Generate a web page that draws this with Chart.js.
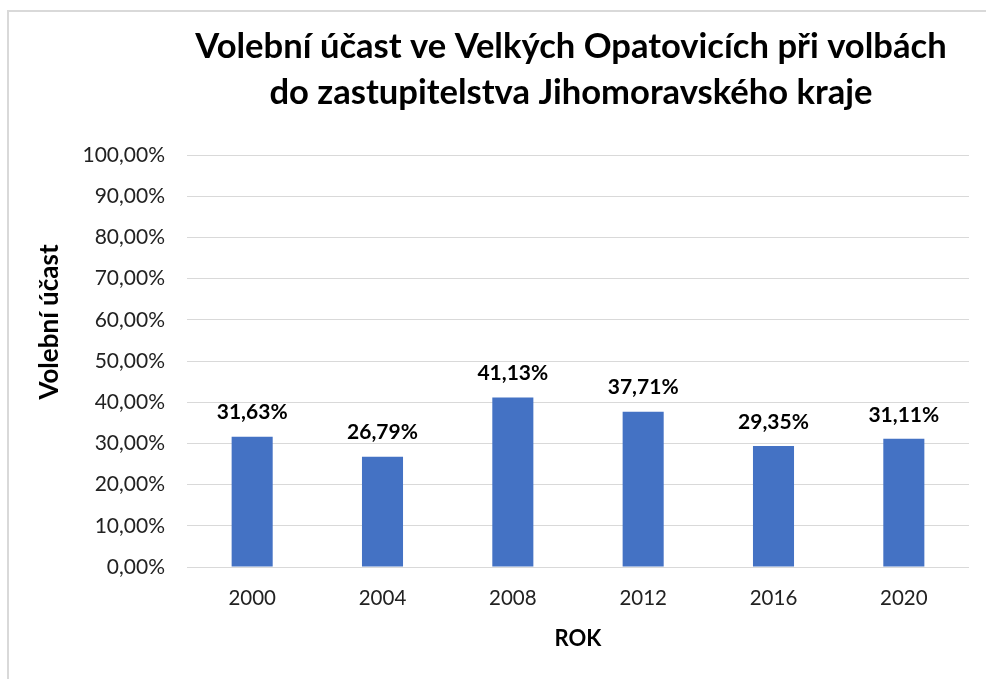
<!DOCTYPE html>
<html>
<head>
<meta charset="utf-8">
<script src="https://cdn.jsdelivr.net/npm/chart.js@4.4.1/dist/chart.umd.min.js"></script>
<style>
  html, body { margin: 0; padding: 0; background: #fff; overflow: hidden; }
  #wrap { position: relative; width: 986px; height: 679px; overflow: hidden; }
  #frame { position: absolute; left: 7px; top: 10px; width: 1200px; height: 800px; border: 2px solid #d9d9d9; box-sizing: border-box; }
  #chart { position: absolute; left: 0; top: 0; }
</style>
</head>
<body>
<div id="wrap">
  <div id="frame"></div>
  <canvas id="chart" width="1142" height="679"></canvas>
</div>
<script>
// data
const roky = ['2000', '2004', '2008', '2012', '2016', '2020'];
const ucast = [31.63, 26.79, 41.13, 37.71, 29.35, 31.11];
const nazev = ['Volební účast ve Velkých Opatovicích při volbách', 'do zastupitelstva Jihomoravského kraje'];
const osaX = 'ROK';
const osaY = 'Volební účast';

function procenta(v) {
    return v.toFixed(2).replace('.', ',') + '%';
}

// popisky nad sloupci
const popiskyPlugin = {
    id: 'popisky',
    afterDatasetsDraw(chart) {
        const ctx = chart.ctx;
        const meta = chart.getDatasetMeta(0);
        ctx.save();
        ctx.font = 'bold 21px Lato';
        ctx.fillStyle = '#000';
        ctx.textAlign = 'center';
        ctx.textBaseline = 'middle';
        meta.data.forEach((bar, i) => {
            ctx.fillText(procenta(ucast[i]), bar.x, bar.y - 24);
        });
        ctx.restore();
    }
};

// nazev osy Y
const osaYPlugin = {
    id: 'osaY',
    afterDraw(chart) {
        const ctx = chart.ctx;
        const area = chart.chartArea;
        ctx.save();
        ctx.translate(area.left - 137, (area.top + area.bottom) / 2 - 39);
        ctx.rotate(-Math.PI / 2);
        ctx.font = 'bold 26px Lato';
        ctx.fillStyle = '#000';
        ctx.textAlign = 'center';
        ctx.textBaseline = 'middle';
        ctx.fillText(osaY, 0, 0);
        ctx.restore();
    }
};

const ctx = document.getElementById('chart').getContext('2d');
new Chart(ctx, {
    type: 'bar',
    data: {
        labels: roky,
        datasets: [{
            data: ucast,
            backgroundColor: '#4472C4',
            categoryPercentage: 1,
            barPercentage: 0.315
        }]
    },
    options: {
        responsive: false,
        animation: false,
        layout: {
            padding: { left: 7, right: 7, top: 0, bottom: 27 }
        },
        plugins: {
            legend: { display: false },
            tooltip: { enabled: false },
            title: {
                display: true,
                text: nazev,
                color: '#000',
                font: { family: 'Lato', size: 34.6, weight: 'bold', lineHeight: '46px' },
                padding: { top: 24, bottom: 39 }
            }
        },
        scales: {
            x: {
                grid: { display: false, drawTicks: false },
                border: { display: false },
                ticks: {
                    color: '#222',
                    padding: 19,
                    font: { family: 'Lato', size: 20.5 }
                },
                title: {
                    display: true,
                    text: osaX,
                    color: '#000',
                    font: { family: 'Lato', size: 22, weight: 'bold' },
                    padding: { top: -4, bottom: 0 }
                }
            },
            y: {
                min: 0,
                max: 100,
                afterFit(scale) {
                    scale.width = 180;
                },
                grid: {
                    color: '#d9d9d9',
                    lineWidth: 1,
                    drawTicks: false
                },
                border: { display: false },
                ticks: {
                    stepSize: 10,
                    color: '#222',
                    padding: 22,
                    font: { family: 'Lato', size: 21 },
                    callback: v => procenta(v)
                }
            },
            // prazdne misto vpravo, aby nadpis byl na stredu ramecku
            mezera: {
                type: 'linear',
                position: 'right',
                afterFit(scale) {
                    scale.width = 166;
                },
                grid: { display: false, drawTicks: false },
                border: { display: false },
                ticks: { display: false }
            }
        }
    },
    plugins: [popiskyPlugin, osaYPlugin]
});
</script>
</body>
</html>
